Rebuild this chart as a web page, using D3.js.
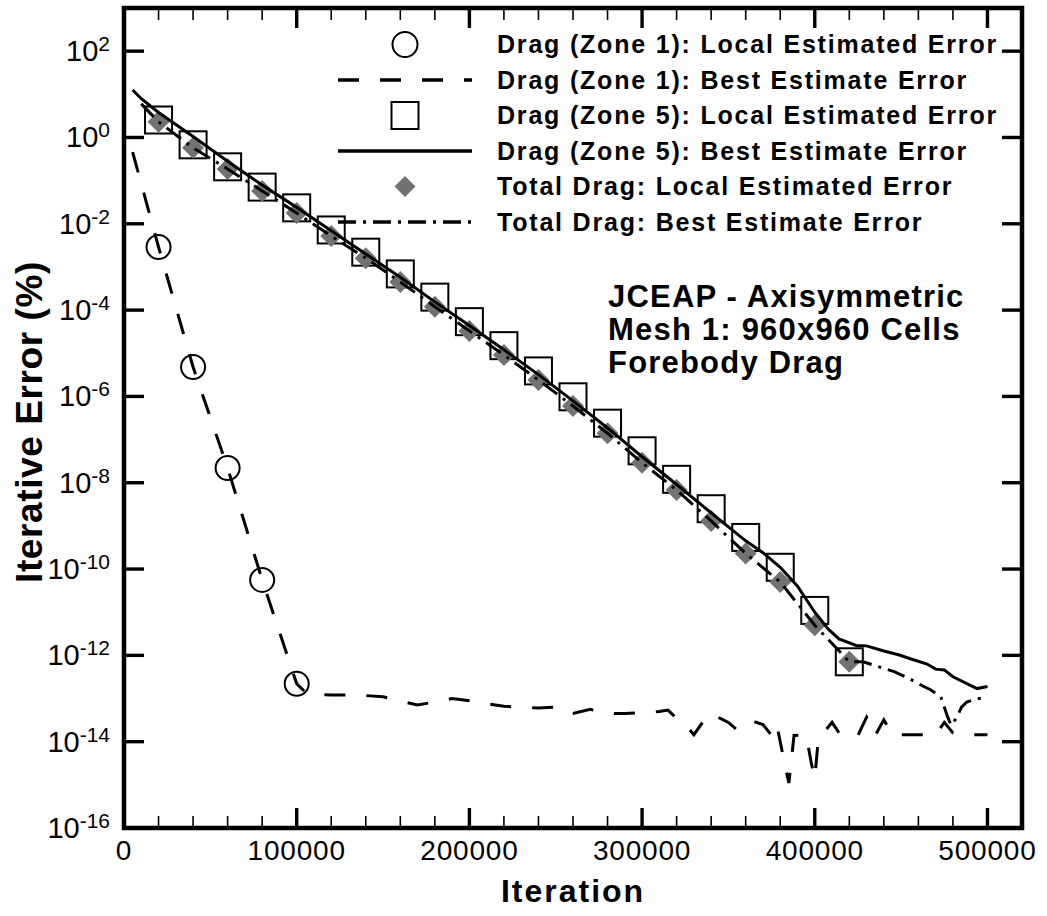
<!DOCTYPE html>
<html>
<head>
<meta charset="utf-8">
<script src="https://cdn.jsdelivr.net/npm/d3@7"></script>
<style>
    body { margin: 0; background: #fff; }
    text { font-family: "Liberation Sans", Arial, Helvetica, sans-serif; fill: #000; }
</style>
</head>
<body>
<div id="chart"></div>
<script>
// ---- data ----
// Drag (Zone 1): local estimated error (circles)
const zone1LocalIter = [20000, 40000, 60000, 80000, 100000];
const zone1LocalErr  = [2.9e-3, 4.8e-6, 2.2e-8, 5.6e-11, 2.2e-13];

// Drag (Zone 1): best estimate error (dashed)
const zone1BestIter = [5000, 20000, 40000, 60000, 80000, 100000, 105000, 110000, 120000, 130000,
    140000, 150000, 160000, 170000, 180000, 190000, 200000, 210000, 220000, 230000,
    240000, 250000, 255000, 260000, 270000, 280000, 290000, 300000, 310000, 315000,
    320000, 325000, 330000, 335000, 340000, 345000, 350000, 355000, 360000, 365000,
    370000, 375000, 378000, 382000, 385000, 388000, 395000, 398000, 400000, 402000,
    405000, 410000, 415000, 425000, 430000, 435000, 440000, 445000, 470000, 475000,
    480000, 485000, 500000];
const zone1BestErr = [0.46, 2.9e-3, 4.8e-6, 2.2e-8, 5.6e-11, 2.2e-13, 1.4e-13, 1.26e-13, 1.2e-13, 1.2e-13,
    1.17e-13, 1.1e-13, 8.7e-14, 7.1e-14, 8.3e-14, 1.0e-13, 8.9e-14, 7.6e-14, 6.6e-14, 6.3e-14,
    6.0e-14, 6.3e-14, 5.0e-14, 4.5e-14, 5.6e-14, 4.5e-14, 4.5e-14, 4.7e-14, 5.0e-14, 5.4e-14,
    3.5e-14, 2.5e-14, 1.45e-14, 2.8e-14, 4.5e-14, 3.5e-14, 2.8e-14, 1.86e-14, 2.5e-14, 2.9e-14,
    2.5e-14, 1.4e-14, 2.5e-14, 4.0e-15, 1.1e-15, 1.4e-14, 1.45e-14, 3.2e-15, 1.4e-15, 1.1e-14,
    1.6e-14, 2.8e-14, 1.4e-14, 1.4e-14, 3.7e-14, 1.4e-14, 3.2e-14, 1.45e-14, 1.45e-14, 2.8e-14,
    1.6e-14, 1.45e-14, 1.45e-14];

// markers every 20000 iterations for zone 5 and total drag
const markerIter = [20000, 40000, 60000, 80000, 100000, 120000, 140000, 160000, 180000, 200000,
    220000, 240000, 260000, 280000, 300000, 320000, 340000, 360000, 380000, 400000, 420000];

// Drag (Zone 5): local estimated error (squares)
const zone5LocalErr = [2.54, 0.676, 0.209, 0.0708, 0.0234, 7.2e-3, 2.2e-3, 6.9e-4, 2.0e-4, 5.4e-5,
    1.5e-5, 3.9e-6, 9.8e-7, 2.4e-7, 5.5e-8, 1.2e-8, 2.5e-9, 5.4e-10, 1.1e-10, 1.1e-11, 7.1e-13];

// Total drag: local estimated error (diamonds)
const totalLocalErr = [2.3, 0.575, 0.186, 0.0575, 0.0178, 5.2e-3, 1.6e-3, 4.5e-4, 1.2e-4, 3.3e-5,
    9.1e-6, 2.4e-6, 6.0e-7, 1.4e-7, 2.9e-8, 6.8e-9, 1.3e-9, 2.3e-10, 5.0e-11, 5.0e-12, 7.1e-13];

// Drag (Zone 5): best estimate error (solid)
const zone5BestIter = [5000, 10000, 20000, 40000, 60000, 80000, 100000, 120000, 140000, 160000,
    180000, 200000, 220000, 240000, 260000, 280000, 300000, 320000, 340000, 360000,
    370000, 380000, 390000, 400000, 408000, 414000, 424000, 430000, 440000, 449000,
    454000, 465000, 470000, 475000, 480000, 494000, 500000];
const zone5BestErr = [12.6, 7.9, 3.8, 1.05, 0.28, 0.079, 0.024, 6.9e-3, 2.0e-3, 5.75e-4,
    1.55e-4, 4.4e-5, 1.2e-5, 3.2e-6, 7.9e-7, 1.86e-7, 4.0e-8, 9.1e-9, 2.0e-9, 4.5e-10,
    2.4e-10, 1.1e-10, 4.0e-11, 1.0e-11, 4.0e-12, 2.4e-12, 1.7e-12, 1.66e-12, 1.26e-12, 1.02e-12,
    8.7e-13, 6.3e-13, 4.8e-13, 4.6e-13, 3.2e-13, 1.7e-13, 1.9e-13];

// Total drag: best estimate error (dash-dot)
const totalBestIter = [10000, 20000, 40000, 60000, 80000, 100000, 120000, 140000, 160000, 180000,
    200000, 220000, 240000, 260000, 280000, 300000, 320000, 340000, 360000, 380000,
    400000, 420000, 428000, 440000, 446000, 454000, 462000, 467000, 473000, 477000,
    479000, 482000, 485000, 488000, 494000, 500000];
const totalBestErr = [6.0, 2.3, 0.575, 0.186, 0.0575, 0.0178, 5.2e-3, 1.6e-3, 4.5e-4, 1.2e-4,
    3.3e-5, 9.1e-6, 2.4e-6, 6.0e-7, 1.4e-7, 2.9e-8, 6.8e-9, 1.3e-9, 2.3e-10, 5.0e-11,
    5.0e-12, 7.1e-13, 7.1e-13, 5.0e-13, 4.2e-13, 3.0e-13, 2.0e-13, 1.6e-13, 1.1e-13, 3.7e-14,
    2.4e-14, 3.5e-14, 6.3e-14, 8.3e-14, 1.0e-13, 1.0e-13];

const xMajorTicks = [0, 100000, 200000, 300000, 400000, 500000];
const yExponents = [2, 0, -2, -4, -6, -8, -10, -12, -14, -16];

const legendLabels = [
    "Drag (Zone 1): Local Estimated Error",
    "Drag (Zone 1): Best Estimate Error",
    "Drag (Zone 5): Local Estimated Error",
    "Drag (Zone 5): Best Estimate Error",
    "Total Drag: Local Estimated Error",
    "Total Drag: Best Estimate Error"
];
const noteLines = ["JCEAP - Axisymmetric", "Mesh 1: 960x960 Cells", "Forebody Drag"];

// ---- drawing ----
const W = 1047, H = 916;
const margin = {top: 8, right: 25, bottom: 88, left: 124};

const svg = d3.select("#chart").append("svg")
    .attr("width", W)
    .attr("height", H);

const x = d3.scaleLinear().domain([0, 520000]).range([margin.left, W - margin.right]);
const y = d3.scaleLog().domain([1e-16, 1e3]).range([H - margin.bottom, margin.top]);

const DASH = "21,21";
const DASHDOT = "18,7,3,7";
const GREY = "#727272";

const line = d3.line().x(d => x(d[0])).y(d => y(d[1]));

function diamond(g, cx, cy, r) {
    g.append("path")
        .attr("d", `M${cx},${cy - r}L${cx + r},${cy}L${cx},${cy + r}L${cx - r},${cy}Z`)
        .attr("fill", GREY);
}

// squares (zone 5 local)
svg.append("g").selectAll("rect")
    .data(d3.zip(markerIter, zone5LocalErr))
    .enter().append("rect")
    .attr("x", d => x(d[0]) - 13.5)
    .attr("y", d => y(d[1]) - 13.5)
    .attr("width", 27).attr("height", 27)
    .attr("fill", "none")
    .attr("stroke", "#000")
    .attr("stroke-width", 2);

// diamonds (total local)
const gDiam = svg.append("g");
d3.zip(markerIter, totalLocalErr).forEach(d => diamond(gDiam, x(d[0]), y(d[1]), 11));

// circles (zone 1 local)
svg.append("g").selectAll("circle")
    .data(d3.zip(zone1LocalIter, zone1LocalErr))
    .enter().append("circle")
    .attr("cx", d => x(d[0]))
    .attr("cy", d => y(d[1]))
    .attr("r", 12)
    .attr("fill", "none")
    .attr("stroke", "#000")
    .attr("stroke-width", 2);

// lines
svg.append("path")
    .datum(d3.zip(zone5BestIter, zone5BestErr))
    .attr("d", line)
    .attr("fill", "none").attr("stroke", "#000").attr("stroke-width", 3);

svg.append("path")
    .datum(d3.zip(totalBestIter, totalBestErr))
    .attr("d", line)
    .attr("fill", "none").attr("stroke", "#000").attr("stroke-width", 3)
    .attr("stroke-dasharray", DASHDOT);

svg.append("path")
    .datum(d3.zip(zone1BestIter, zone1BestErr))
    .attr("d", line)
    .attr("fill", "none").attr("stroke", "#000").attr("stroke-width", 3)
    .attr("stroke-dasharray", DASH);

// frame
const x0 = x.range()[0], x1 = x.range()[1], y0 = y.range()[0], y1 = y.range()[1];
svg.append("rect")
    .attr("x", x0).attr("y", y1)
    .attr("width", x1 - x0).attr("height", y0 - y1)
    .attr("fill", "none").attr("stroke", "#000").attr("stroke-width", 4.5);

// ticks
const xMinor = d3.range(20000, 520000, 20000).filter(v => v % 100000 !== 0);
const tickG = svg.append("g").attr("stroke", "#000");
xMinor.forEach(v => {
    tickG.append("line").attr("x1", x(v)).attr("x2", x(v)).attr("y1", y0).attr("y2", y0 - 12).attr("stroke-width", 1.6);
    tickG.append("line").attr("x1", x(v)).attr("x2", x(v)).attr("y1", y1).attr("y2", y1 + 12).attr("stroke-width", 1.6);
});
xMajorTicks.forEach(v => {
    tickG.append("line").attr("x1", x(v)).attr("x2", x(v)).attr("y1", y0).attr("y2", y0 - 20).attr("stroke-width", 3.4);
    tickG.append("line").attr("x1", x(v)).attr("x2", x(v)).attr("y1", y1).attr("y2", y1 + 20).attr("stroke-width", 3.4);
});
yExponents.forEach(e => {
    const yy = y(Math.pow(10, e));
    tickG.append("line").attr("x1", x0).attr("x2", x0 + 20).attr("y1", yy).attr("y2", yy).attr("stroke-width", 3.4);
    tickG.append("line").attr("x1", x1).attr("x2", x1 - 20).attr("y1", yy).attr("y2", yy).attr("stroke-width", 3.4);
});

// tick labels
xMajorTicks.forEach(v => {
    svg.append("text")
        .attr("x", x(v)).attr("y", y0 + 32)
        .attr("text-anchor", "middle")
        .attr("font-size", 28)
        .attr("letter-spacing", 0.8)
        .text(v);
});
yExponents.forEach(e => {
    const t = svg.append("text")
        .attr("x", x0 - 14).attr("y", y(Math.pow(10, e)) + 10)
        .attr("text-anchor", "end")
        .attr("font-size", 29);
    t.append("tspan").text("10");
    t.append("tspan").attr("dy", -10).attr("font-size", 21).text(e < 0 ? "-" + (-e) : e);
});

// axis titles
svg.append("text")
    .attr("x", (x0 + x1) / 2).attr("y", 902)
    .attr("text-anchor", "middle")
    .attr("font-size", 32).attr("font-weight", "bold")
    .attr("letter-spacing", 2)
    .text("Iteration");

svg.append("text")
    .attr("transform", `translate(42, ${(y0 + y1) / 2 + 4}) rotate(-90)`)
    .attr("text-anchor", "middle")
    .attr("font-size", 37).attr("font-weight", "bold")
    .attr("letter-spacing", 0.6)
    .text("Iterative Error (%)");

// legend
const legX = 405, legL = 338, legR = 472, legText = 497, legBase = 53, legStep = 35.5;
const legend = svg.append("g");
legendLabels.forEach((lab, i) => {
    const cy = legBase + i * legStep - 8.5;
    if (i === 0) {
        legend.append("circle").attr("cx", legX).attr("cy", cy).attr("r", 12.5)
            .attr("fill", "none").attr("stroke", "#000").attr("stroke-width", 2);
    } else if (i === 2) {
        legend.append("rect").attr("x", legX - 13.5).attr("y", cy - 13.5).attr("width", 27).attr("height", 27)
            .attr("fill", "none").attr("stroke", "#000").attr("stroke-width", 2);
    } else if (i === 4) {
        diamond(legend, legX, cy, 10.5);
    } else {
        legend.append("line").attr("x1", legL).attr("x2", legR).attr("y1", cy).attr("y2", cy)
            .attr("stroke", "#000").attr("stroke-width", 3.5)
            .attr("stroke-dasharray", i === 1 ? DASH : i === 5 ? DASHDOT : null);
    }
    legend.append("text")
        .attr("x", legText).attr("y", legBase + i * legStep)
        .attr("font-size", 25).attr("font-weight", "bold")
        .attr("letter-spacing", 1.8)
        .text(lab);
});

// annotation
noteLines.forEach((s, i) => {
    svg.append("text")
        .attr("x", 608).attr("y", 307 + i * 33)
        .attr("font-size", 31).attr("font-weight", "bold")
        .attr("letter-spacing", 1.2)
        .text(s);
});
</script>
</body>
</html>
